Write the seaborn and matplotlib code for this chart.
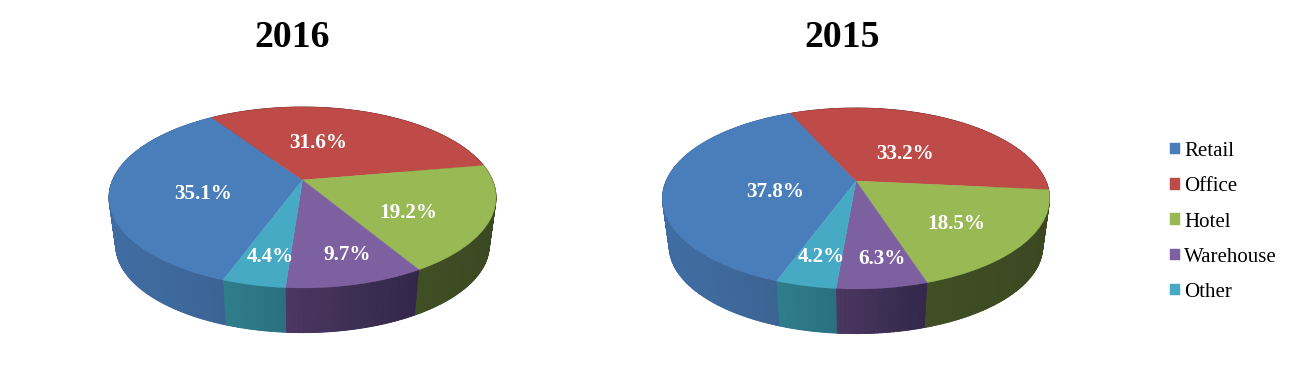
import numpy as np
import matplotlib
matplotlib.use("Agg")
import matplotlib.pyplot as plt
from matplotlib.collections import PolyCollection
from matplotlib.transforms import Transform
import matplotlib.colors as mcolors
import seaborn as sns

# ---- data ----
categories = ["Retail", "Office", "Hotel", "Warehouse", "Other"]
share_2016 = [35.1, 31.6, 19.2, 9.7, 4.4]
share_2015 = [37.8, 33.2, 18.5, 6.3, 4.2]
titles = ["2016", "2015"]
palette_hex = ["#4a7ebb", "#be4b48", "#98b954", "#7d60a0", "#46aac5"]
wall_from = ["#406ea5", "#6e2d2b", "#414f25", "#4c3762", "#2f7f8c"]
wall_to = ["#3c6493", "#6e2d2b", "#3b4821", "#32274a", "#2a6f80"]

# ---- layout (pixels in the 1300x379 figure) ----
W, H = 1300, 379
apexes = [(302.5, 180.0), (856.0, 181.0)]
title_xy = [(292, 37.5), (842, 37.5)]
label_xy = [
    [(203, 193.5), (318, 142.5), (408, 212.5), (347, 255.5), (270, 256.5)],
    [(775, 191.5), (905, 153.5), (956, 223.5), (882, 258.5), (821, 256.5)],
]
START_ANGLE = 250.0
# perspective of the tilted disc
A, C, D = 87.1, 0.193, 189.9
# lower rim of the cylinder wall
WALL_SCALE, WALL_DROP = 0.965, 48.5

sns.set_theme(style="white")
plt.rcParams["font.family"] = ["Liberation Serif", "DejaVu Serif"]
colors = sns.color_palette(palette_hex)


class Tilt(Transform):
    """Perspective view of the unit disc, output in pixels around the apex."""
    input_dims = output_dims = 2
    is_separable = False
    has_inverse = False

    def transform_non_affine(self, values):
        values = np.asarray(values, dtype=float)
        u, v = values[:, 0], values[:, 1]
        w = 1 + C * v
        return np.column_stack([D * u / w, A * v / w])


def draw_wall(ax, values, tilt):
    total = float(np.sum(values))
    edges = START_ANGLE - np.cumsum([0] + list(values)) / total * 360
    base_polys, base_faces, polys, faces = [], [], [], []
    for i in range(len(values)):
        n = max(int(abs(edges[i + 1] - edges[i])), 2)
        th = np.radians(np.linspace(edges[i], edges[i + 1], n + 1))
        rim = tilt.transform_non_affine(np.column_stack([np.cos(th), np.sin(th)]))
        low = rim * WALL_SCALE - np.array([0, WALL_DROP])
        c0 = np.array(mcolors.to_rgb(wall_from[i]))
        c1 = np.array(mcolors.to_rgb(wall_to[i]))
        front = rim[:, 1] < 0
        xs = rim[front, 0] if front.any() else rim[:, 0]
        span = max(xs.max() - xs.min(), 1.0)
        for j in range(n):
            quad = [rim[j], rim[j + 1], low[j + 1], low[j]]
            t = np.clip((0.5 * (rim[j, 0] + rim[j + 1, 0]) - xs.min()) / span, 0, 1)
            base_polys.append(quad)
            base_faces.append(tuple(0.5 * (c0 + c1)))
            polys.append(quad)
            faces.append(tuple(c0 + (c1 - c0) * t))
    ax.add_collection(PolyCollection(base_polys, facecolors=base_faces, edgecolors=base_faces,
                                     linewidths=0.6, zorder=1))
    ax.add_collection(PolyCollection(polys, facecolors=faces, edgecolors="none",
                                     linewidths=0, zorder=1.1))


fig = plt.figure(figsize=(W / 100, H / 100), dpi=100, facecolor="white")
all_values = [share_2016, share_2015]
wedge_handles = None
for k, values in enumerate(all_values):
    ax_px = apexes[k]
    x0, x1 = ax_px[0] - 215, ax_px[0] + 215
    y0, y1 = 60, 350
    ax = fig.add_axes([x0 / W, 1 - y1 / H, (x1 - x0) / W, (y1 - y0) / H])
    tilt = Tilt()
    draw_wall(ax, values, tilt)
    wedges, _ = ax.pie(values, colors=colors, startangle=START_ANGLE, counterclock=False,
                       wedgeprops=dict(linewidth=0.3, zorder=2))
    for w in wedges:
        w.set_edgecolor(w.get_facecolor())
        w.set_transform(tilt + ax.transData)
    ax.set_aspect("auto")
    ax.set_xlim(x0 - ax_px[0], x1 - ax_px[0])
    ax.set_ylim(ax_px[1] - y1, ax_px[1] - y0)
    ax.set_axis_off()
    for val, (lx, ly) in zip(values, label_xy[k]):
        ax.text(lx - ax_px[0], ax_px[1] - ly, f"{val:.1f}%", color="white", fontsize=15.2,
                fontweight="bold", ha="center", va="center", zorder=5)
    fig.text(title_xy[k][0] / W, 1 - title_xy[k][1] / H, titles[k], fontsize=27.2,
             fontweight="bold", color="black", ha="center", va="center")
    if wedge_handles is None:
        wedge_handles = wedges

fig.legend(wedge_handles, categories, loc="center left",
           bbox_to_anchor=(1170 / W, 1 - 222 / H), frameon=False, fontsize=15,
           handlelength=0.48, handleheight=0.48, handletextpad=0.2,
           labelspacing=0.78, borderpad=0, borderaxespad=0, labelcolor="black")

fig.savefig("out.png", dpi=100, facecolor="white")
